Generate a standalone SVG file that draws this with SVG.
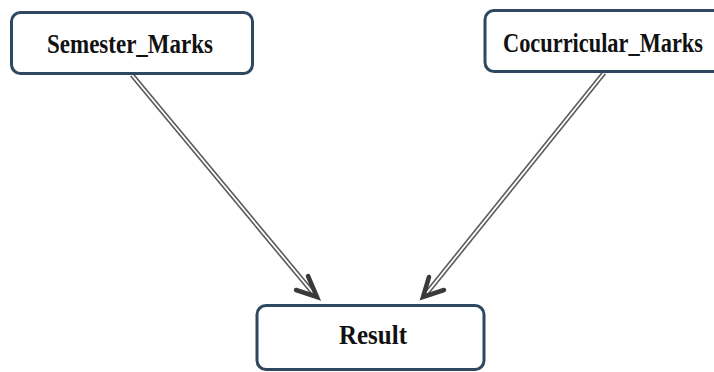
<svg xmlns="http://www.w3.org/2000/svg" width="714" height="372" viewBox="0 0 714 372">
<defs>
<style>
.box{fill:#ffffff;stroke:#2e4860;stroke-width:3}
.lbl{font-family:"Liberation Serif","Times New Roman",serif;font-weight:bold;font-size:28px;fill:#111;text-anchor:middle}
.outer{stroke:#5a5a5a;stroke-width:5;fill:none}
.inner{stroke:#ffffff;stroke-width:1.8;fill:none}
.head{stroke:#3a3a3a;stroke-width:4.5;fill:none;stroke-linecap:round;stroke-linejoin:miter}
</style>
</defs>
<rect width="714" height="372" fill="#ffffff"/>
<g id="connectors">
<line class="outer" x1="132" y1="75" x2="314" y2="294"/>
<line class="inner" x1="132" y1="75" x2="314" y2="294"/>
<path class="head" d="M308,276 L317,297 L296,290"/>
<line class="outer" x1="604" y1="73" x2="426" y2="294"/>
<line class="inner" x1="604" y1="73" x2="426" y2="294"/>
<path class="head" d="M429,277 L423,297 L444,290"/>
</g>
<g id="semester_marks">
<rect class="box" x="11.5" y="12.5" width="241" height="61" rx="9"/>
<text class="lbl" x="130" y="53" textLength="166" lengthAdjust="spacingAndGlyphs">Semester_Marks</text>
</g>
<g id="cocurricular_marks">
<rect class="box" x="485" y="10.5" width="240" height="61" rx="9"/>
<text class="lbl" x="603" y="52" textLength="200" lengthAdjust="spacingAndGlyphs">Cocurricular_Marks</text>
</g>
<g id="result">
<rect class="box" x="257" y="305.5" width="227" height="64" rx="9"/>
<text class="lbl" x="373" y="344" textLength="68" lengthAdjust="spacingAndGlyphs">Result</text>
</g>
</svg>
